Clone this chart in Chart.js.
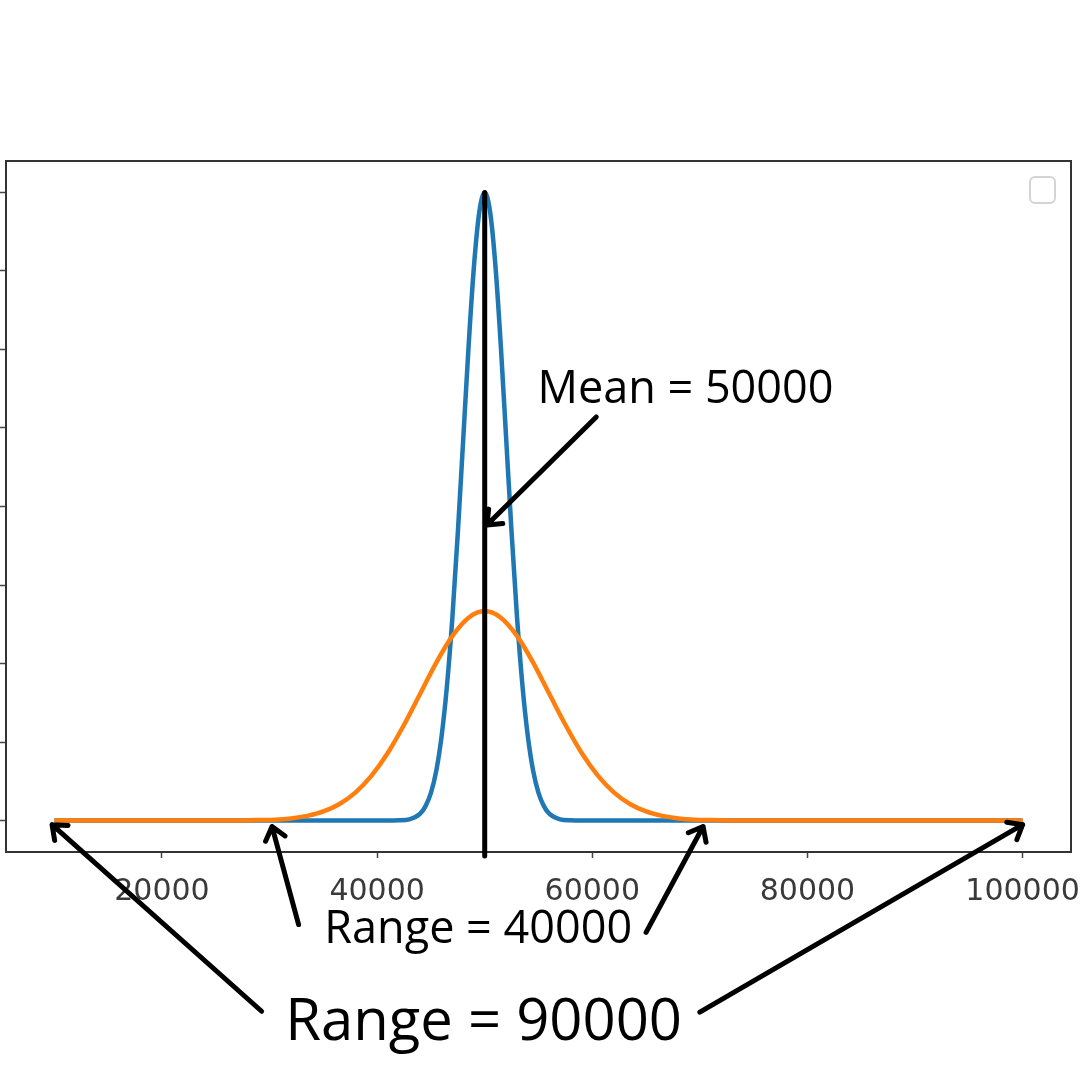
<!DOCTYPE html>
<html><head><meta charset="utf-8">
<script src="https://cdn.jsdelivr.net/npm/chart.js@4.4.1/dist/chart.umd.min.js"></script>
<style>html,body{margin:0;padding:0;background:#fff;}</style>
</head><body>
<canvas id="c" width="1080" height="1080"></canvas>
<script>
// ---- data ----
const blueX = [10000, 40000, 42000, 43000, 44000, 44500, 45000, 45500, 46000, 46500, 47000, 47500, 48000, 48500, 49000, 49500, 50000, 50500, 51000, 51500, 52000, 52500, 53000, 53500, 54000, 54500, 55000, 55500, 56000, 57000, 58000, 60000, 100000];
const blueY = [0, 0, 0.01, 0.04, 0.22, 0.46, 0.88, 1.59, 2.71, 4.33, 6.49, 9.16, 12.13, 15.10, 17.65, 19.38, 20.00, 19.38, 17.65, 15.10, 12.13, 9.16, 6.49, 4.33, 2.71, 1.59, 0.88, 0.46, 0.22, 0.04, 0.01, 0, 0];
const orangeX = [10000, 26000, 29000, 30500, 32000, 33500, 35000, 36500, 38000, 39500, 41000, 42500, 44000, 45500, 47000, 48500, 50000, 51500, 53000, 54500, 56000, 57500, 59000, 60500, 62000, 63500, 65000, 66500, 68000, 69500, 71000, 74000, 100000];
const orangeY = [0, 0, 0.02, 0.03, 0.07, 0.15, 0.29, 0.53, 0.90, 1.44, 2.16, 3.05, 4.04, 5.03, 5.88, 6.46, 6.67, 6.46, 5.88, 5.03, 4.04, 3.05, 2.16, 1.44, 0.90, 0.53, 0.29, 0.15, 0.07, 0.03, 0.02, 0, 0];
const xTickValues = [20000, 40000, 60000, 80000, 100000];
const yTickValues = [0, 2.5, 5, 7.5, 10, 12.5, 15, 17.5, 20];
const meanValue = 50000;
const meanTop = 20;
const annotationTexts = ["Mean = 50000", "Range = 40000", "Range = 90000"];
const annotationX = [54900, 49400, 49900];
const annotationY = [13.3, -3.9, -7.0];
const arrowFromX = [60370, 32700, 65000, 29260, 70000];
const arrowFromY = [12.85, -3.31, -3.56, -6.07, -6.1];
const arrowToX = [50200, 30230, 70300, 9780, 100000];
const arrowToY = [9.41, -0.19, -0.19, -0.13, -0.13];

const overlay = {
  id: 'overlay',
  afterDraw(chart) {
    const {ctx, chartArea: a, scales: {x, y}} = chart;
    ctx.save();
    // top and right spines
    ctx.strokeStyle = '#333'; ctx.lineWidth = 2;
    ctx.beginPath(); ctx.moveTo(a.left, a.top); ctx.lineTo(a.right, a.top); ctx.lineTo(a.right, a.bottom); ctx.stroke();
    // empty legend box
    ctx.strokeStyle = '#d4d4d4'; ctx.lineWidth = 2;
    ctx.beginPath(); ctx.roundRect(a.right - 41, a.top + 16, 25, 26, 5); ctx.stroke();
    // mean line
    ctx.strokeStyle = '#000'; ctx.lineWidth = 5; ctx.lineCap = 'round'; ctx.lineJoin = 'round';
    const mx = x.getPixelForValue(meanValue);
    ctx.beginPath(); ctx.moveTo(mx, y.getPixelForValue(meanTop)); ctx.lineTo(mx, a.bottom + 4); ctx.stroke();
    // arrows
    ctx.lineWidth = 5;
    for (let i = 0; i < arrowFromX.length; i++) {
      const x0 = x.getPixelForValue(arrowFromX[i]), y0 = y.getPixelForValue(arrowFromY[i]);
      const x1 = x.getPixelForValue(arrowToX[i]), y1 = y.getPixelForValue(arrowToY[i]);
      const ang = Math.atan2(y1 - y0, x1 - x0), L = 16, h = 0.68;
      ctx.beginPath();
      ctx.moveTo(x0, y0); ctx.lineTo(x1, y1);
      ctx.moveTo(x1 - L * Math.cos(ang - h), y1 - L * Math.sin(ang - h));
      ctx.lineTo(x1, y1);
      ctx.lineTo(x1 - L * Math.cos(ang + h), y1 - L * Math.sin(ang + h));
      ctx.stroke();
    }
    // texts
    ctx.fillStyle = '#000'; ctx.textBaseline = 'alphabetic';
    const sizes = [45, 45, 58], aligns = ['left', 'center', 'center'];
    for (let i = 0; i < annotationTexts.length; i++) {
      ctx.font = sizes[i] + 'px "Open Sans"';
      ctx.textAlign = aligns[i];
      ctx.fillText(annotationTexts[i], x.getPixelForValue(annotationX[i]), y.getPixelForValue(annotationY[i]));
    }
    ctx.restore();
  }
};

new Chart(document.getElementById('c'), {
  type: 'line',
  data: {
    datasets: [
      { data: blueX.map((v, i) => ({x: v, y: blueY[i]})), borderColor: '#1f77b4', borderWidth: 4.5, pointRadius: 0, cubicInterpolationMode: 'monotone', order: 1 },
      { data: orangeX.map((v, i) => ({x: v, y: orangeY[i]})), borderColor: '#ff7f0e', borderWidth: 4.5, pointRadius: 0, cubicInterpolationMode: 'monotone', order: 0 }
    ]
  },
  options: {
    responsive: false, devicePixelRatio: 1, animation: false,
    layout: { padding: { left: 0, right: 9, top: 161, bottom: 0 } },
    plugins: { legend: { display: false }, tooltip: { enabled: false } },
    scales: {
      x: {
        type: 'linear', min: 5500, max: 104500,
        afterBuildTicks: s => { s.ticks = xTickValues.map(v => ({value: v})); },
        afterFit: s => { s.height = 228; s.paddingLeft = 0; s.paddingRight = 0; },
        grid: { drawOnChartArea: false, drawTicks: true, tickLength: 6, tickColor: '#444', tickWidth: 1.5 },
        border: { color: '#333', width: 2 },
        ticks: { autoSkip: false, maxRotation: 0, padding: 16, color: '#3a3a3a', font: { family: 'DejaVu Sans', size: 30 }, callback: v => String(v) }
      },
      y: {
        type: 'linear', min: -1, max: 21,
        afterBuildTicks: s => { s.ticks = yTickValues.map(v => ({value: v})); },
        afterFit: s => { s.width = 6; },
        grid: { drawOnChartArea: false, drawTicks: true, tickLength: 6, tickColor: '#444', tickWidth: 1.5 },
        border: { color: '#333', width: 2 },
        ticks: { display: false }
      }
    }
  },
  plugins: [overlay]
});
</script>
</body></html>
